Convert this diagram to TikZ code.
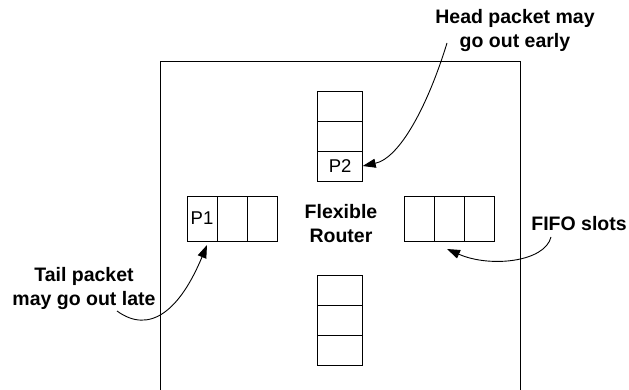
\documentclass[tikz,border=0pt]{standalone}
\usepackage{fontspec}
\setmainfont{Liberation Sans}
\usetikzlibrary{arrows.meta}
\begin{document}
\begin{tikzpicture}[x=1pt,y=-1pt,
  cell/.style={draw, line width=0.9pt, inner sep=0pt, outer sep=0pt,
    font=\fontsize{18.5}{22}\selectfont},
  vcell/.style={cell, minimum width=45pt, minimum height=30pt},
  hcell/.style={cell, minimum width=30pt, minimum height=45pt},
  lbl/.style={font=\bfseries\fontsize{19.5}{24}\selectfont, align=center, inner sep=0pt},
  pointer/.style={line width=0.9pt, -{Triangle[length=13pt,width=9pt]}}]
\useasboundingbox (0,0) rectangle (629,390);

% router outline (runs past the lower edge)
\draw[line width=0.9pt] (160,395) -- (160,61) -- (520,61) -- (520,395);

% north FIFO
\node[vcell] (n1) at (340.2,106) {};
\node[vcell] (n2) at (340.2,136) {};
\node[vcell] (p2) at (340.2,166) {P2};
% south FIFO
\node[vcell] (s1) at (340.2,290) {};
\node[vcell] (s2) at (340.2,320) {};
\node[vcell] (s3) at (340.2,350) {};
% west FIFO
\node[hcell] (p1) at (202,218.5) {P1};
\node[hcell] (w2) at (232,218.5) {};
\node[hcell] (w3) at (262,218.5) {};
% east FIFO
\node[hcell] (e1) at (419,218.5) {};
\node[hcell] (e2) at (449,218.5) {};
\node[hcell] (e3) at (479,218.5) {};

% labels
\node[lbl, anchor=north] (router) at (341,204) {Flexible\\Router};
\node[lbl, anchor=north] (head) at (515,9.5) {Head packet may\\go out early};
\node[lbl, anchor=north] (tail) at (84,267.5) {Tail packet\\may go out late};
\node[lbl, anchor=base] (fifo) at (579,230) {FIFO slots};

% pointers
\coordinate (hs) at (447,43);
\coordinate (ts) at (117,311);
\coordinate (tt) at (207,245);
\coordinate (fs) at (551,237);
\coordinate (ft) at (447,249);
\draw[pointer] (hs) .. controls (428,105) and (400,158) .. (p2.east);
\draw[pointer] (ts) .. controls (150,335) and (180,310) .. (tt);
\draw[pointer] (fs) .. controls (545,262) and (490,268) .. (ft);
\end{tikzpicture}
\end{document}
